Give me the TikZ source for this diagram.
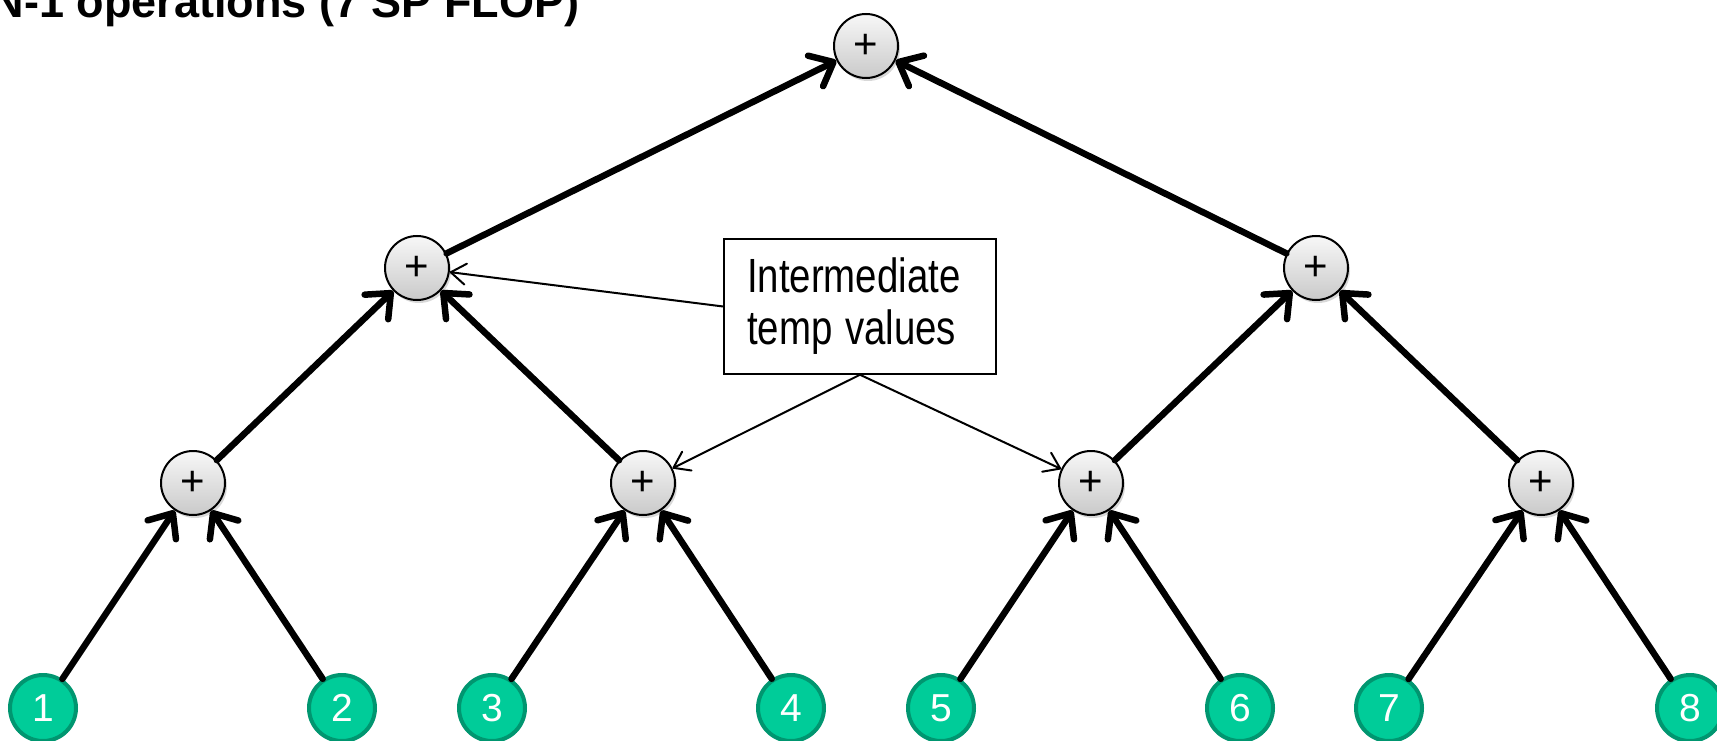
\documentclass[tikz,border=0pt]{standalone}
\usepackage{fontspec}
\setmainfont{Liberation Sans}
\usetikzlibrary{arrows.meta,shadows}
\definecolor{leaffill}{RGB}{0,204,153}
\definecolor{leafedge}{RGB}{0,150,112}
\begin{document}
\begin{tikzpicture}[x=1pt,y=-1pt,
  plusnode/.style={circle, draw=black, line width=2pt, minimum size=64pt, inner sep=0pt,
    top color=gray!6, bottom color=gray!42,
    drop shadow={opacity=0.3, shadow xshift=2pt, shadow yshift=-3pt},
    font=\fontsize{42}{42}\selectfont},
  leafnode/.style={circle, draw=leafedge, fill=leaffill, line width=4pt, minimum size=66pt,
    inner sep=0pt, text=white, font=\fontsize{39}{39}\selectfont},
  bigarrow/.style={line width=6.5pt, line cap=round, -{Straight Barb[length=20pt,width=34pt,round]}},
  thinarrow/.style={line width=2pt, -{Straight Barb[length=15pt,width=21pt,round]}},
  notebox/.style={draw=black, line width=1.5pt, fill=white, minimum width=272pt, minimum height=135pt,
    text width=226pt, inner xsep=23pt, align=left, font=\fontsize{48}{52}\selectfont}
]
\useasboundingbox (0,0) rectangle (1717,741);
\clip (0,0) rectangle (1717,741);
\fill[white] (0,0) rectangle (1717,741);

\node[anchor=base east, font=\fontsize{45}{45}\selectfont\bfseries] (title) at (583,18) {N-1 operations (7 SP FLOP)};

% leaves
\node[leafnode] (l1) at (43,708) {1};
\node[leafnode] (l2) at (342,708) {2};
\node[leafnode] (l3) at (492,708) {3};
\node[leafnode] (l4) at (791,708) {4};
\node[leafnode] (l5) at (941,708) {5};
\node[leafnode] (l6) at (1240,708) {6};
\node[leafnode] (l7) at (1389,708) {7};
\node[leafnode] (l8) at (1690,708) {8};

% plus nodes
\node[plusnode] (a1) at (193,483) {+};
\node[plusnode] (a2) at (643,483) {+};
\node[plusnode] (a3) at (1091,483) {+};
\node[plusnode] (a4) at (1541,483) {+};
\node[plusnode] (b1) at (417,268) {+};
\node[plusnode] (b2) at (1316,268) {+};
\node[plusnode] (top) at (866,46) {+};

% edges
\draw[bigarrow] (l1) -- (a1);
\draw[bigarrow] (l2) -- (a1);
\draw[bigarrow] (l3) -- (a2);
\draw[bigarrow] (l4) -- (a2);
\draw[bigarrow] (l5) -- (a3);
\draw[bigarrow] (l6) -- (a3);
\draw[bigarrow] (l7) -- (a4);
\draw[bigarrow] (l8) -- (a4);
\draw[bigarrow] (a1) -- (b1);
\draw[bigarrow] (a2) -- (b1);
\draw[bigarrow] (a3) -- (b2);
\draw[bigarrow] (a4) -- (b2);
\draw[bigarrow] (b1) -- (top);
\draw[bigarrow] (b2) -- (top);

% callout
\node[notebox] (note) at (860,306.5) {\scalebox{0.8}[1]{Intermediate}\\\scalebox{0.8}[1]{temp values}};
\draw[thinarrow] (note.west) -- (b1);
\draw[thinarrow] (note.south) -- (a2);
\draw[thinarrow] (note.south) -- (a3);
\end{tikzpicture}
\end{document}
